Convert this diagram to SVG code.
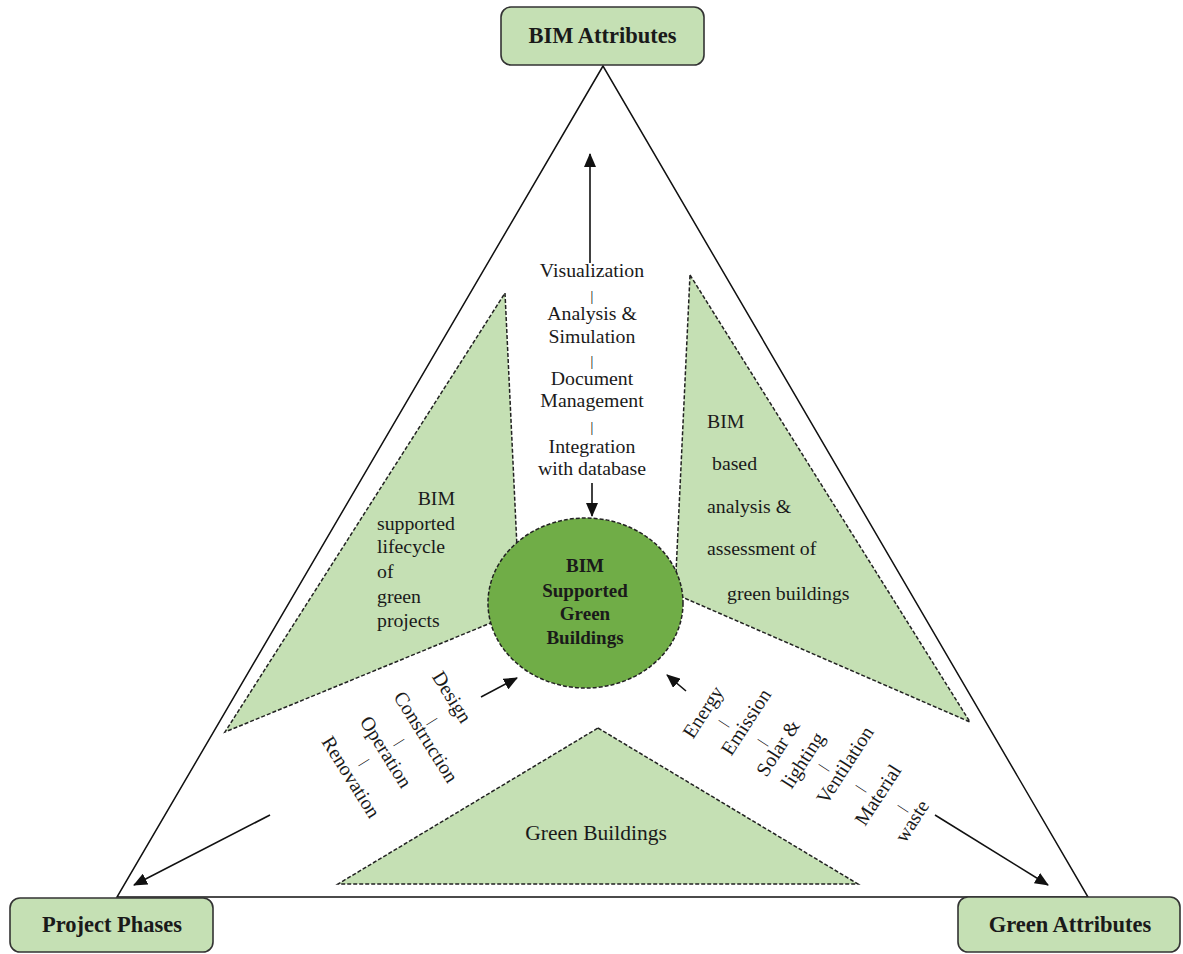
<svg xmlns="http://www.w3.org/2000/svg" width="1183" height="954" viewBox="0 0 1183 954">
<style>
.box{fill:#c5e0b4;stroke:#333;stroke-width:1.6}
.boxt{font-family:"Liberation Serif","Times New Roman",serif;font-weight:bold;font-size:22.5px;fill:#1a1a1a;text-anchor:middle}
.tri{fill:#c5e0b4;stroke:#222;stroke-width:1.5;stroke-dasharray:4 2}
.t{font-family:"Liberation Serif","Times New Roman",serif;font-size:19.8px;fill:#1a1a1a}
.r{font-size:20px}
.gb{font-size:21.5px}
.bar{font-size:14px;fill:#000}
.c{text-anchor:middle}
.ct{font-family:"Liberation Serif","Times New Roman",serif;font-weight:bold;font-size:19px;fill:#1a1a1a;text-anchor:middle}
.arr{stroke:#111;stroke-width:1.6;fill:none;marker-end:url(#ah)}
</style>
<defs>
<marker id="ah" markerUnits="userSpaceOnUse" markerWidth="14" markerHeight="12" refX="13" refY="6" orient="auto">
<path d="M0,0 L14,6 L0,12 z" fill="#111"/>
</marker>
</defs>
<rect width="1183" height="954" fill="#fff"/>
<g id="frame">
<polygon points="603,66 117,897 1088,897" fill="none" stroke="#111" stroke-width="1.5"/>
</g>
<g id="lifecycle-triangle">
<polygon class="tri" points="505,293 520,611 225,732"/>
<text class="t" x="455" y="505" text-anchor="end">BIM</text>
<text class="t" x="377" y="530">supported</text>
<text class="t" x="377" y="553">lifecycle</text>
<text class="t" x="377" y="578">of</text>
<text class="t" x="377" y="603">green</text>
<text class="t" x="377" y="627">projects</text>
</g>
<g id="assessment-triangle">
<polygon class="tri" points="690,275 970,722 675,594"/>
<text class="t" x="707" y="428">BIM</text>
<text class="t" x="712" y="470">based</text>
<text class="t" x="707" y="513">analysis &amp;</text>
<text class="t" x="707" y="555">assessment of</text>
<text class="t" x="727" y="600">green buildings</text>
</g>
<g id="green-buildings-triangle">
<polygon class="tri" points="598,728 858,884 338,884"/>
<text class="t c gb" x="596" y="840">Green Buildings</text>
</g>
<g id="center-circle">
<ellipse cx="585.5" cy="603" rx="97.5" ry="85" fill="#70ad47" stroke="#222" stroke-width="1.5" stroke-dasharray="4 2"/>
<text class="ct" x="585" y="572">BIM</text>
<text class="ct" x="585" y="597">Supported</text>
<text class="ct" x="585" y="620">Green</text>
<text class="ct" x="585" y="644">Buildings</text>
</g>
<g id="bim-attribute-list">
<text class="t c" x="592" y="277">Visualization</text>
<text class="t c bar" x="592" y="301">|</text>
<text class="t c" x="592" y="320">Analysis &amp;</text>
<text class="t c" x="592" y="343">Simulation</text>
<text class="t c bar" x="592" y="366">|</text>
<text class="t c" x="592" y="385">Document</text>
<text class="t c" x="592" y="407">Management</text>
<text class="t c bar" x="592" y="432">|</text>
<text class="t c" x="592" y="453">Integration</text>
<text class="t c" x="592" y="475">with database</text>
</g>
<g id="phase-list">
<text class="t c r" dy="0.33em" transform="translate(452,697) rotate(58)">Design</text>
<text class="t c bar" dy="0.33em" transform="translate(433,721) rotate(58)">|</text>
<text class="t c r" dy="0.33em" transform="translate(426,737) rotate(58)">Construction</text>
<text class="t c bar" dy="0.33em" transform="translate(400,742) rotate(58)">|</text>
<text class="t c r" dy="0.33em" transform="translate(386,752) rotate(58)">Operation</text>
<text class="t c bar" dy="0.33em" transform="translate(365,762) rotate(58)">|</text>
<text class="t c r" dy="0.33em" transform="translate(351,777) rotate(58)">Renovation</text>
</g>
<g id="green-attribute-list">
<text class="t c r" dy="0.33em" transform="translate(703,712) rotate(-57)">Energy</text>
<text class="t c bar" dy="0.33em" transform="translate(723,723) rotate(-57)">|</text>
<text class="t c r" dy="0.33em" transform="translate(746,722) rotate(-57)">Emission</text>
<text class="t c bar" dy="0.33em" transform="translate(762,742) rotate(-57)">|</text>
<text class="t c r" dy="0.33em" transform="translate(778,748) rotate(-57)">Solar &amp;</text>
<text class="t c r" dy="0.33em" transform="translate(803,760) rotate(-57)">lighting</text>
<text class="t c bar" dy="0.33em" transform="translate(823,767) rotate(-57)">|</text>
<text class="t c r" dy="0.33em" transform="translate(845,765) rotate(-57)">Ventilation</text>
<text class="t c bar" dy="0.33em" transform="translate(860,788) rotate(-57)">|</text>
<text class="t c r" dy="0.33em" transform="translate(878,795) rotate(-57)">Material</text>
<text class="t c bar" dy="0.33em" transform="translate(902,808) rotate(-57)">|</text>
<text class="t c r" dy="0.33em" transform="translate(912,821) rotate(-57)">waste</text>
</g>
<g id="connectors">
<line class="arr" x1="590" y1="263" x2="590" y2="154"/>
<line class="arr" x1="592" y1="483" x2="592" y2="516"/>
<line class="arr" x1="481" y1="697" x2="517" y2="678"/>
<line class="arr" x1="686" y1="691" x2="667" y2="675"/>
<line class="arr" x1="270" y1="815" x2="134" y2="885"/>
<line class="arr" x1="935" y1="815" x2="1048" y2="885"/>
</g>
<g id="bim-attributes">
<rect class="box" x="501" y="7" width="203" height="58" rx="10"/>
<text class="boxt" x="602.5" y="43">BIM Attributes</text>
</g>
<g id="project-phases">
<rect class="box" x="10" y="898" width="203" height="54" rx="10"/>
<text class="boxt" x="112" y="932">Project Phases</text>
</g>
<g id="green-attributes">
<rect class="box" x="958" y="897" width="222" height="55" rx="10"/>
<text class="boxt" x="1070" y="932">Green Attributes</text>
</g>
</svg>
